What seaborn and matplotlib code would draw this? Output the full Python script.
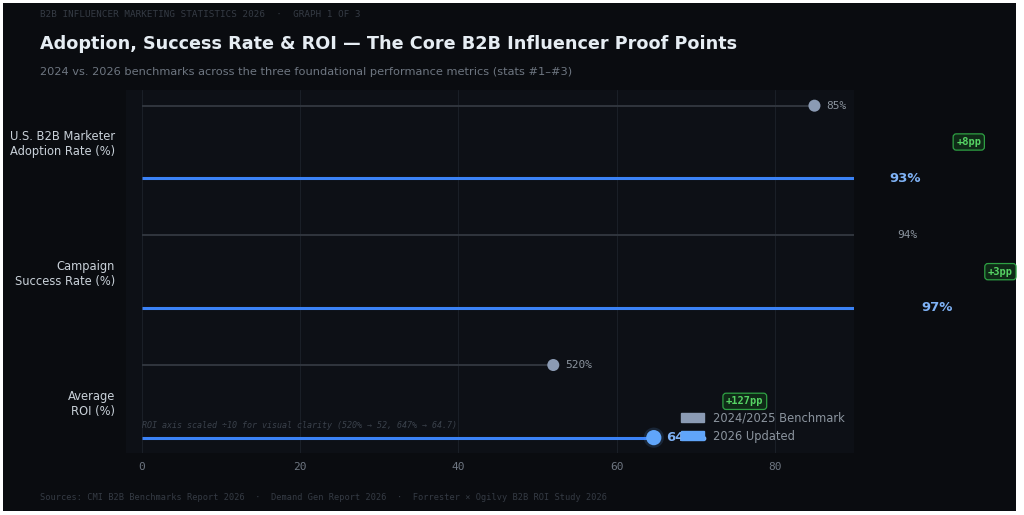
import matplotlib
matplotlib.use("Agg")
import matplotlib.pyplot as plt
import matplotlib.patches as mpatches
import seaborn as sns
import pandas as pd

# ---- data ----
metrics = ["U.S. B2B Marketer\nAdoption Rate (%)", "Campaign\nSuccess Rate (%)", "Average\nROI (%)"]
bench_values = [85, 94, 52]          # ROI scaled /10 (520%)
updated_values = [93, 97, 64.7]      # ROI scaled /10 (647%)
bench_labels = ["85%", "94%", "520%"]
updated_labels = ["93%", "97%", "647%"]
delta_labels = ["+8pp", "+3pp", "+127pp"]
x_ticks = [0, 20, 40, 60, 80]

BG = "#0a0c10"
AX_BG = "#0d1016"
BLUE = "#3b82f6"
BLUE_DOT = "#60a5fa"
GREY_DOT = "#8b9bb4"
GREY_LINE = "#30363e"
MUTED = "#6e7681"

sns.set_theme(style="dark")
plt.rcParams["font.family"] = ["DejaVu Sans"]

fig = plt.figure(figsize=(10.24, 5.15), dpi=100)
fig.patch.set_facecolor("white")
fig.add_artist(mpatches.Rectangle((3 / 1024, 4 / 515), 1013 / 1024, 508 / 515,
                                  transform=fig.transFigure, facecolor=BG,
                                  edgecolor="none", zorder=-10))
ax = fig.add_axes([0.123, 0.120, 0.711, 0.705])
ax.set_facecolor(AX_BG)

off = 0.28
rows = list(range(len(metrics)))
df = pd.DataFrame({
    "row": rows * 2,
    "y": [r - off for r in rows] + [r + off for r in rows],
    "value": bench_values + updated_values,
    "series": ["2024/2025 Benchmark"] * 3 + ["2026 Updated"] * 3,
})
bdf = df[df.series == "2024/2025 Benchmark"]
udf = df[df.series == "2026 Updated"]

# stems
ax.hlines(bdf["y"], 0, bdf["value"], color=GREY_LINE, lw=1.4, zorder=2)
ax.hlines(udf["y"], 0, udf["value"], color=BLUE, lw=2.2, zorder=2)

# dots
sns.scatterplot(data=udf, x="value", y="y", ax=ax, s=210, color=BLUE_DOT,
                alpha=0.15, edgecolor="none", legend=False, zorder=3)
sns.scatterplot(data=bdf, x="value", y="y", ax=ax, s=75, color=GREY_DOT,
                edgecolor="none", legend=False, zorder=4)
sns.scatterplot(data=udf, x="value", y="y", ax=ax, s=120, color=BLUE_DOT,
                edgecolor="none", legend=False, zorder=4)

ax.set_xlim(-2, 90)
ax.set_ylim(2.4, -0.4)

# value labels
for i in rows:
    ax.text(bench_values[i] + 1.5, i - off, bench_labels[i], color="#8b949e",
            fontsize=8, family="DejaVu Sans Mono", va="center", ha="left",
            clip_on=False, zorder=5)
    ax.text(updated_values[i] + 1.5, i + off, updated_labels[i], color="#7fb2f5",
            fontsize=9.5, fontweight="bold", va="center", ha="left",
            clip_on=False, zorder=5)
    ax.text(max(bench_values[i], updated_values[i]) + 11.5, i, delta_labels[i],
            color="#56d364", fontsize=7.5, fontweight="bold", family="DejaVu Sans Mono",
            va="center", ha="center", clip_on=False, zorder=6,
            bbox=dict(boxstyle="round,pad=0.3", facecolor="#0f2a17",
                      edgecolor="#2ea043", lw=0.9))

ax.text(0, 2 + off - 0.09, "ROI axis scaled \u00f710 for visual clarity (520% \u2192 52, 647% \u2192 64.7)",
        color="#3a414b", fontsize=6, style="italic", family="DejaVu Sans Mono",
        va="center", ha="left", zorder=5)

# axes styling
ax.set_yticks(rows)
ax.set_yticklabels(metrics, color="#c9d1d9", fontsize=8.3)
ax.set_xticks(x_ticks)
ax.set_xticklabels([str(t) for t in x_ticks], color=MUTED, fontsize=8,
                   family="DejaVu Sans Mono")
ax.tick_params(axis="both", length=0, pad=8)
ax.tick_params(axis="x", pad=6)
ax.set_xlabel("")
ax.set_ylabel("")
ax.grid(axis="x", color="#1a1f27", lw=0.8)
ax.grid(axis="y", visible=False)
for s in ax.spines.values():
    s.set_visible(False)

handles = [mpatches.Patch(color=GREY_DOT, label="2024/2025 Benchmark"),
           mpatches.Patch(color=BLUE_DOT, label="2026 Updated")]
leg = ax.legend(handles=handles, loc="lower right", bbox_to_anchor=(0.997, 0.01),
                frameon=False, fontsize=8.3, handlelength=2.0, handleheight=0.8,
                borderaxespad=0.2, labelspacing=0.45)
for t in leg.get_texts():
    t.set_color("#8b949e")
leg.set_zorder(10)

# titles
fig.text(0.039, 0.972, "B2B INFLUENCER MARKETING STATISTICS 2026  \u00b7  GRAPH 1 OF 3",
         color="#353b44", fontsize=6.7, family="DejaVu Sans Mono", va="center")
fig.text(0.039, 0.915, "Adoption, Success Rate & ROI \u2014 The Core B2B Influencer Proof Points",
         color="#e6edf3", fontsize=12.7, fontweight="bold", va="center")
fig.text(0.039, 0.860, "2024 vs. 2026 benchmarks across the three foundational performance metrics (stats #1\u2013#3)",
         color=MUTED, fontsize=8.2, va="center")
fig.text(0.039, 0.034, "Sources: CMI B2B Benchmarks Report 2026  \u00b7  Demand Gen Report 2026  \u00b7  Forrester \u00d7 Ogilvy B2B ROI Study 2026",
         color="#353b44", fontsize=6.2, family="DejaVu Sans Mono", va="center")

fig.savefig("out.png", dpi=100, facecolor=fig.get_facecolor())
